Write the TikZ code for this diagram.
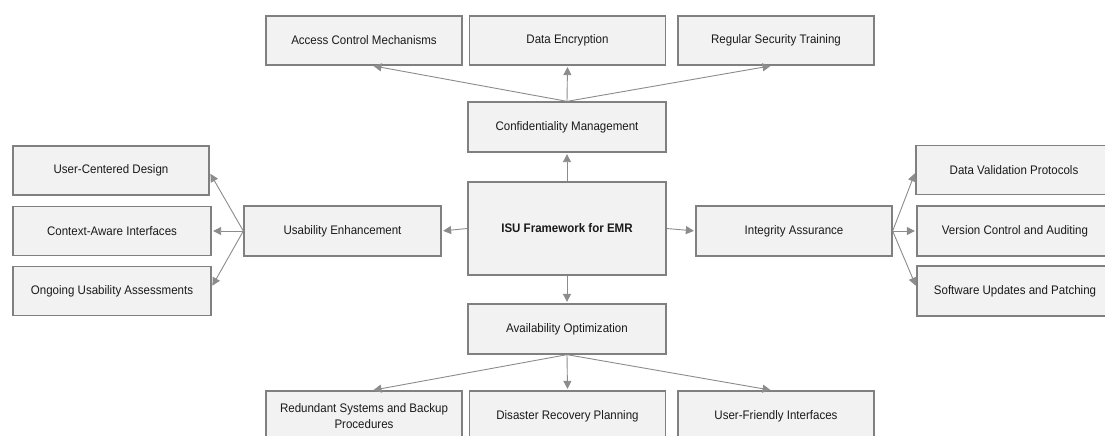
\documentclass[tikz,border=0pt]{standalone}
\usepackage{fontspec}
\setmainfont{Liberation Sans}[FakeStretch=0.93]
\usetikzlibrary{arrows.meta}
\definecolor{boxline}{HTML}{808080}
\definecolor{boxfill}{HTML}{F2F2F2}
\definecolor{arrowcol}{HTML}{8C8C8C}
\definecolor{txt}{HTML}{1A1A1A}
\begin{document}
\begin{tikzpicture}[x=1pt,y=1pt,
  card/.style={draw=boxline, fill=boxfill, line width=1.3pt, minimum width=196pt, minimum height=49pt,
    inner sep=0pt, text=txt, font=\fontsize{12.4}{16.5}\selectfont, align=center},
  link/.style={draw=arrowcol, line width=0.9pt, -{Triangle[length=8pt,width=8pt]}, shorten >=1.5pt}
]
\useasboundingbox (0,0) rectangle (1105,-436);
\clip (0,0) rectangle (1105,-436);
\fill[white] (0,0) rectangle (1105,-436);

% top row
\node[card] (acc) at (364,-40.5) {Access Control Mechanisms};
\node[card] (enc) at (567.5,-40.5) {Data Encryption};
\node[card] (reg) at (776,-40.5) {Regular Security Training};
\node[card, minimum width=198pt, minimum height=50pt] (conf) at (567,-127) {Confidentiality Management};

% left column
\node[card] (ucd) at (111,-170.5) {User-Centered Design};
\node[card, minimum width=198pt] (cai) at (112,-231) {Context-Aware Interfaces};
\node[card, minimum width=198pt] (ogn) at (112,-291) {Ongoing Usability Assessments};
\node[card, minimum width=197pt, minimum height=50pt] (ue) at (342.5,-231) {Usability Enhancement};

% center
\node[card, minimum width=198pt, minimum height=93pt, font=\fontsize{12.4}{14}\selectfont\bfseries] (isu) at (567,-228.5) {ISU Framework for EMR};

% right
\node[card, minimum height=50pt] (ia) at (794,-231) {Integrity Assurance};
\node[card] (dvp) at (1014,-170) {Data Validation Protocols};
\node[card, minimum height=50pt] (vca) at (1015,-231) {Version Control and Auditing};
\node[card, minimum height=50pt] (sup) at (1015,-291) {Software Updates and Patching};

% bottom
\node[card, minimum width=198pt, minimum height=50pt] (avail) at (567,-329) {Availability Optimization};
\node[card, minimum height=50pt] (red) at (364,-416) {Redundant Systems and Backup\\Procedures};
\node[card, minimum height=50pt] (dis) at (567.5,-416) {Disaster Recovery Planning};
\node[card, minimum height=50pt] (ufi) at (776,-416) {User-Friendly Interfaces};

% connectors
\draw[link] (conf.north) -- ([xshift=8pt]acc.south);
\draw[link] (conf.north) -- (enc.south);
\draw[link] (conf.north) -- ([xshift=-4pt]reg.south);

\draw[link] (isu.north) -- (conf.south);
\draw[link] (isu.west) -- (ue.east);
\draw[link] (isu.east) -- (ia.west);
\draw[link] (isu.south) -- (avail.north);

\draw[link] (ue.west) -- ([yshift=-2pt]ucd.east);
\draw[link] (ue.west) -- (cai.east);
\draw[link] (ue.west) -- ([yshift=4pt]ogn.east);

\draw[link] (ia.east) -- ([yshift=-2pt]dvp.west);
\draw[link] (ia.east) -- (vca.west);
\draw[link] (ia.east) -- ([yshift=4pt]sup.west);

\draw[link] (avail.south) -- ([xshift=8pt]red.north);
\draw[link] (avail.south) -- (dis.north);
\draw[link] (avail.south) -- ([xshift=-4pt]ufi.north);
\end{tikzpicture}
\end{document}
